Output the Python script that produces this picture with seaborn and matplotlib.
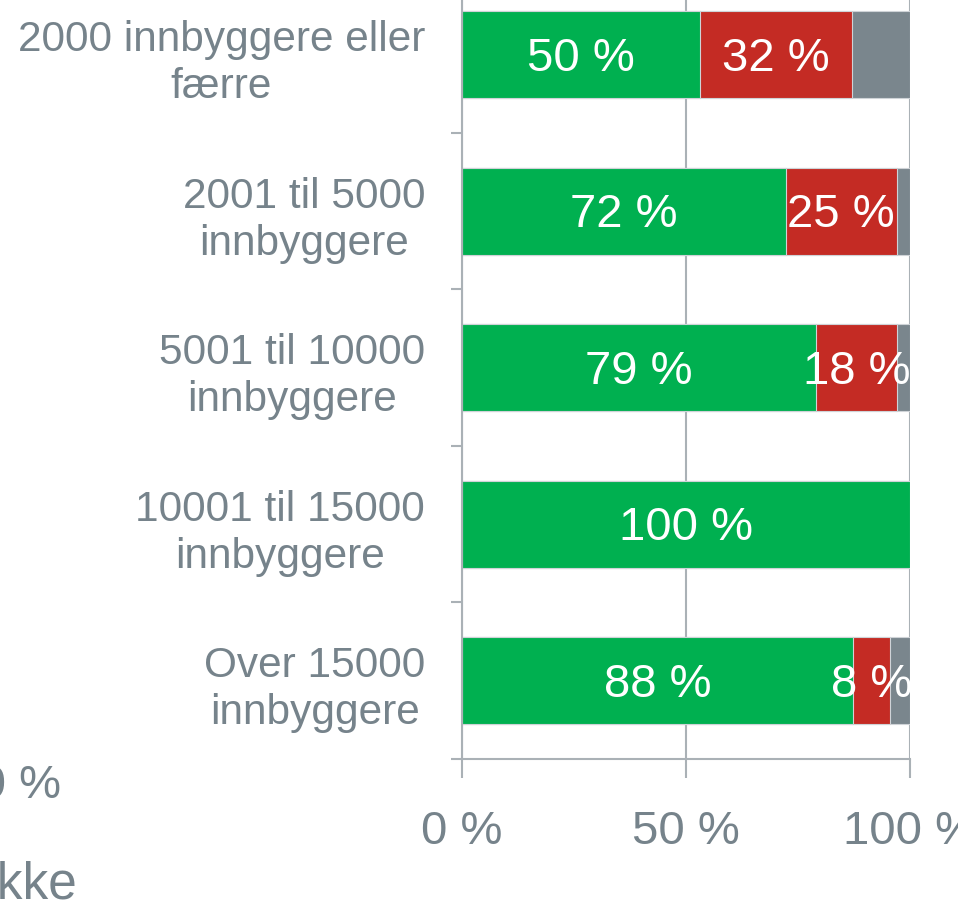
import numpy as np
import pandas as pd
import matplotlib
matplotlib.use('Agg')
import matplotlib.pyplot as plt
import seaborn as sns

# kategorier og verdier (andel i prosent, lest av figuren)
kategorier = ['2000 innbyggere eller\nfærre', '2001 til 5000\ninnbyggere',
              '5001 til 10000\ninnbyggere', '10001 til 15000\ninnbyggere',
              'Over 15000\ninnbyggere']
ja = [53.2, 72.3, 79.1, 100.0, 87.4]
nei = [34.0, 24.9, 18.2, 0.0, 8.2]
vet_ikke = [12.8, 2.8, 2.7, 0.0, 4.4]

ja_tekst = ['50 %', '72 %', '79 %', '100 %', '88 %']
nei_tekst = ['32 %', '25 %', '18 %', '', '8 %']

xticks = [0, 50, 100]
xtick_tekst = ['0 %', '50 %', '100 %']

GRONN = '#00b050'
ROD = '#c42b24'
GRA = '#7a868d'
TEKST = '#76838b'
LINJE = '#aab1b6'

df = pd.DataFrame({'kat': kategorier, 'ja': ja, 'nei': nei, 'vet': vet_ikke})
df['ja_nei'] = df['ja'] + df['nei']
df['sum'] = df['ja_nei'] + df['vet']

sns.set_theme(style='white')
plt.rcParams['font.family'] = ['Liberation Sans', 'DejaVu Sans']

fig = plt.figure(figsize=(9.58, 9.04), dpi=100)
ax = fig.add_axes([0.4823, 0.1593, 0.4671, 0.8656])

kw = dict(orient='h', width=0.555, edgecolor='#cfd3d7', linewidth=0.8, ax=ax)
sns.barplot(data=df, x='sum', y='kat', color=GRA, saturation=1, **kw)
sns.barplot(data=df, x='ja_nei', y='kat', color=ROD, saturation=1, **kw)
sns.barplot(data=df, x='ja', y='kat', color=GRONN, saturation=1, **kw)

# etiketter i segmentene
for i, r in df.iterrows():
    ax.text(r['ja'] / 2, i + 0.02, ja_tekst[i], ha='center', va='center',
            color='white', fontsize=34, clip_on=True)
    if nei_tekst[i]:
        ax.text(r['ja'] + r['nei'] / 2, i + 0.02, nei_tekst[i], ha='center',
                va='center', color='white', fontsize=34, clip_on=True)

ax.set_xlim(0, 100)
ax.set_ylim(len(kategorier) - 0.5, -0.5)
ax.set_xlabel('')
ax.set_ylabel('')

ax.set_xticks(xticks)
ax.set_xticklabels(xtick_tekst)
ax.set_yticks(range(len(kategorier)))
ax.set_yticklabels(kategorier, multialignment='center', linespacing=1.22)
ax.set_yticks(np.arange(-0.5, len(kategorier)), minor=True)

ax.tick_params(axis='x', direction='out', length=14, width=1.5, color=LINJE,
               labelsize=34, labelcolor=TEKST, pad=22, bottom=True)
ax.tick_params(axis='y', which='major', length=0, labelsize=30.5,
               labelcolor=TEKST, pad=26.5, left=True)
ax.tick_params(axis='y', which='minor', direction='out', length=8,
               width=1.5, color=LINJE, left=True)

ax.xaxis.grid(True, color=LINJE, linewidth=1.5)
ax.set_axisbelow(True)
for s in ['top', 'right']:
    ax.spines[s].set_visible(False)
for s in ['left', 'bottom']:
    ax.spines[s].set_color(LINJE)
    ax.spines[s].set_linewidth(1.5)
    ax.spines[s].set_zorder(3)

# rester av nabopanelet som er skåret bort i utsnittet
fig.text(61 / 958, 1 - 798 / 904, '100 %', ha='right', va='baseline',
         color=TEKST, fontsize=34)
fig.text(77 / 958, 1 - 899 / 904, 'Vet ikke', ha='right', va='baseline',
         color=TEKST, fontsize=37)

fig.savefig('out.png', dpi=100)
